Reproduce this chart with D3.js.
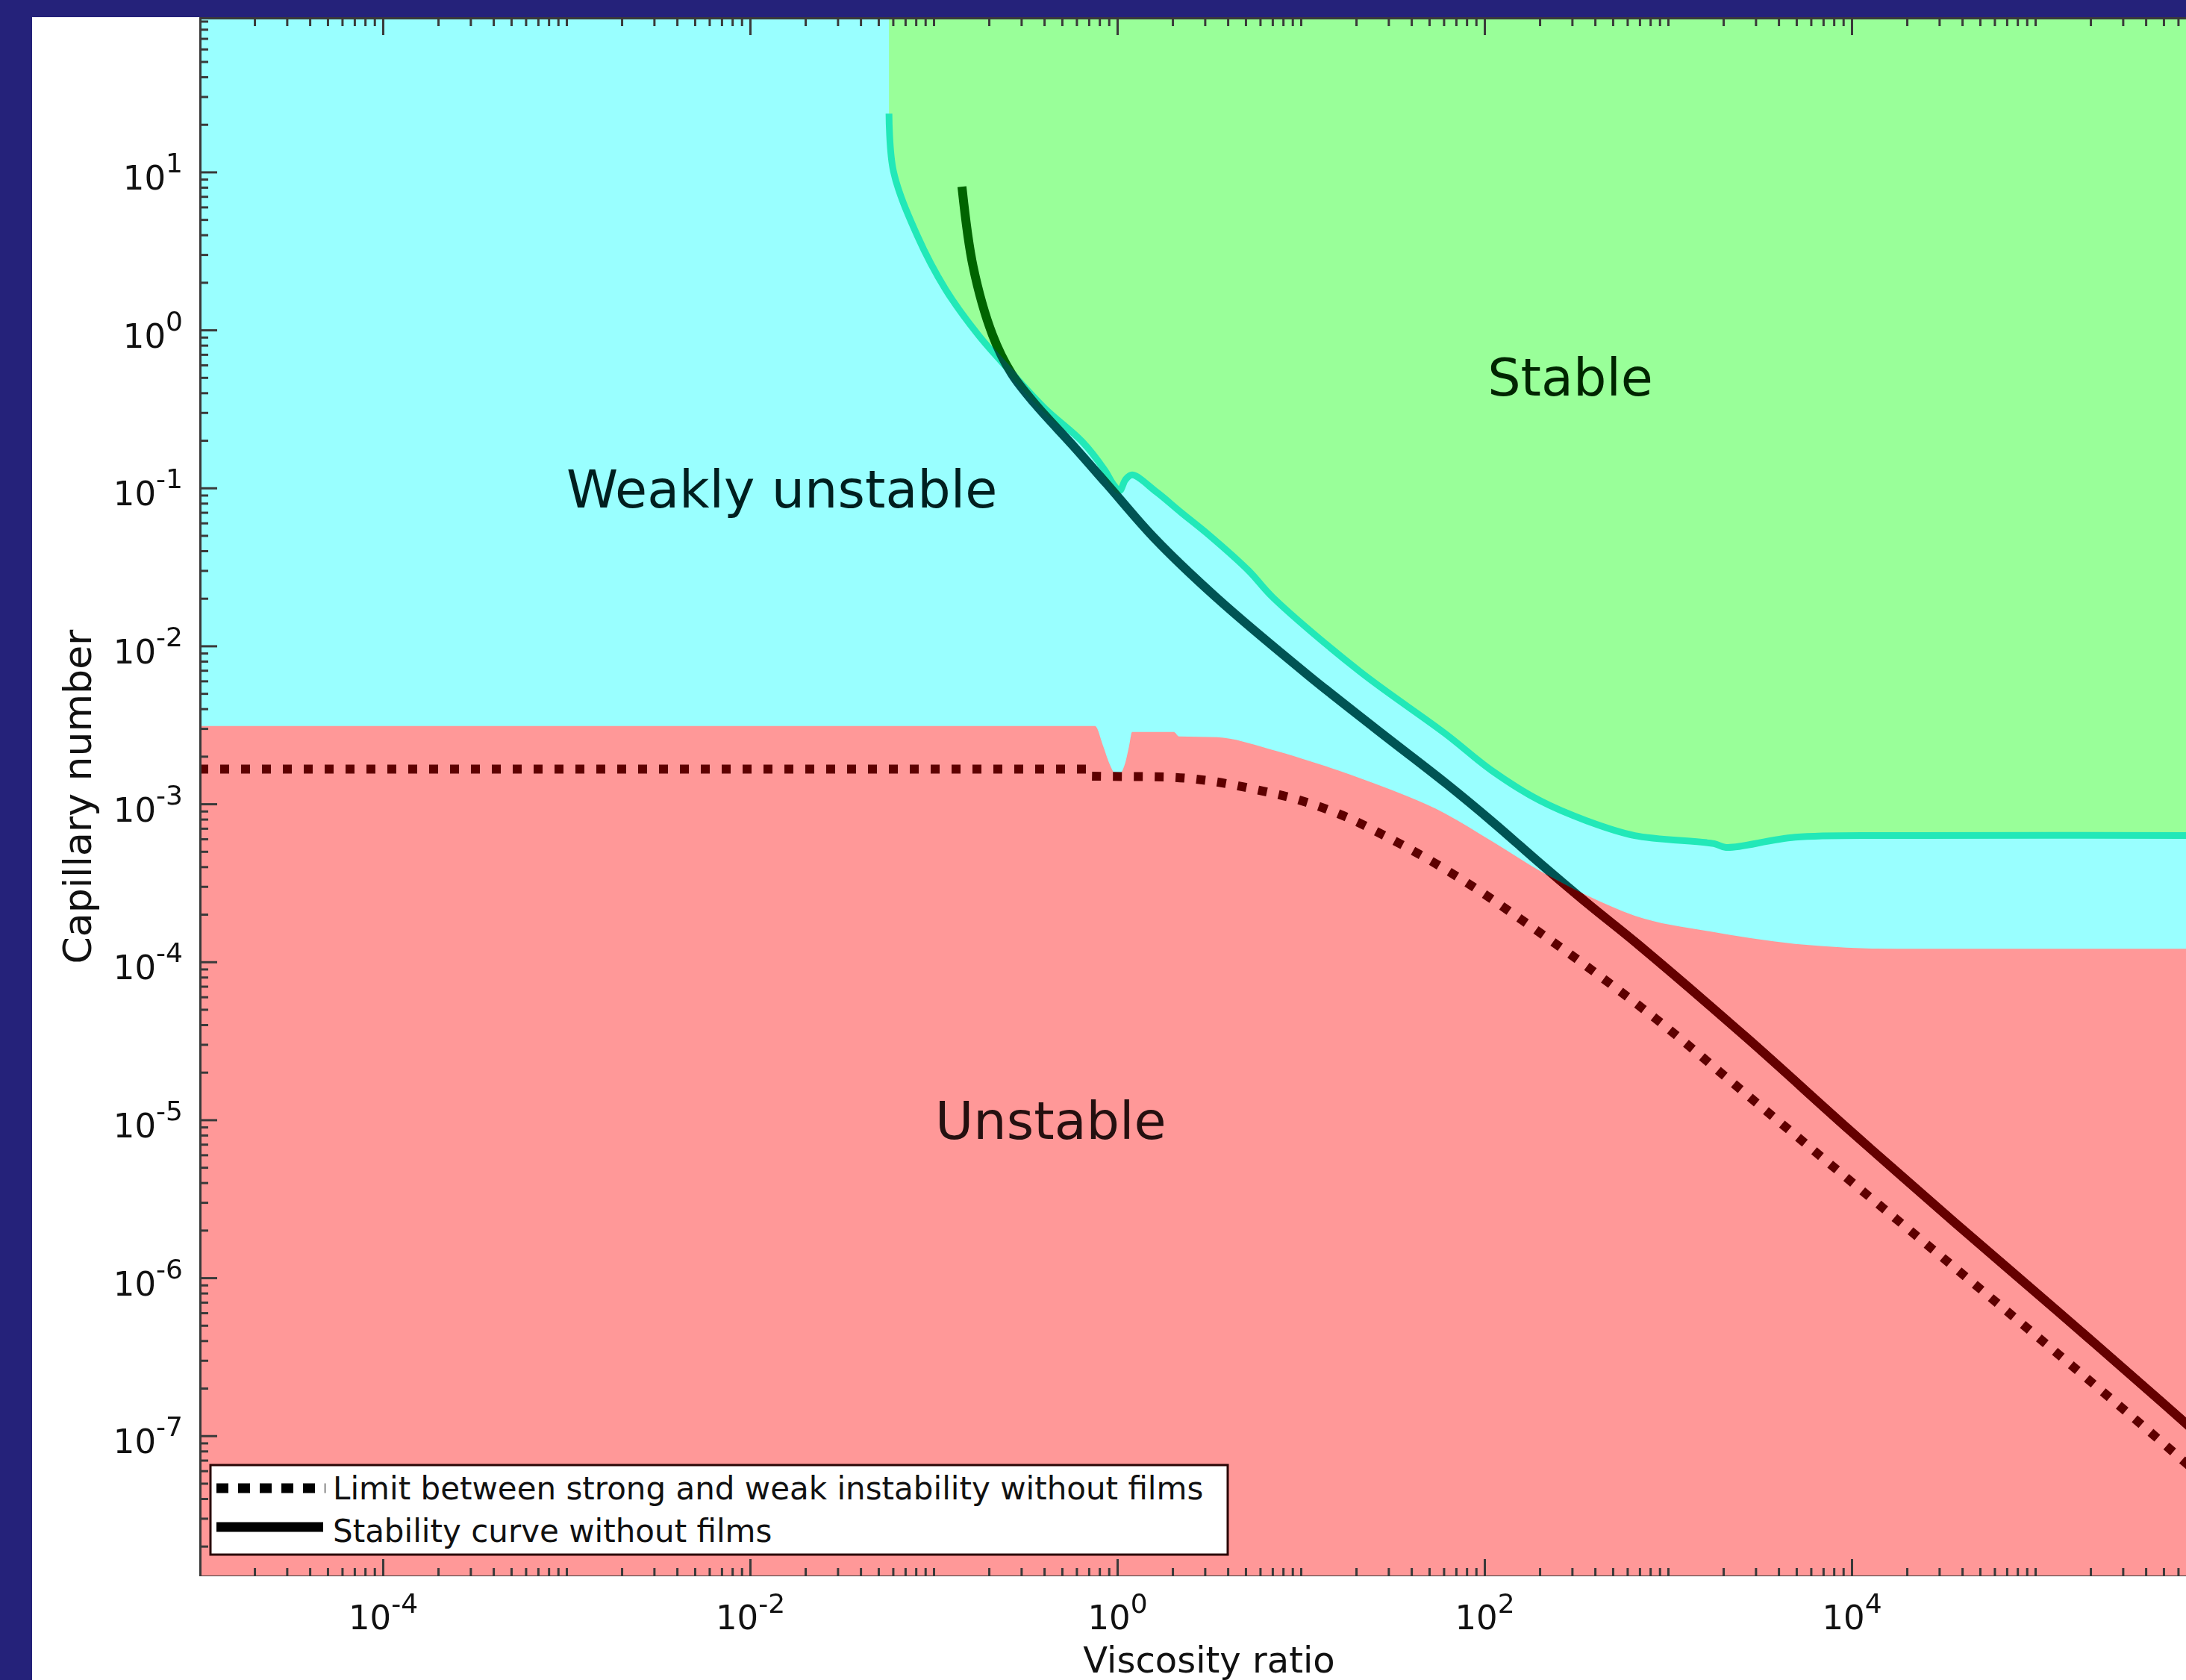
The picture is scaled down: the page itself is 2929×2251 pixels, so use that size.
<!DOCTYPE html>
<meta charset="utf-8">
<style>
	body { margin: 0; background: #25227a; }
	svg { display: block; font-family: "DejaVu Sans", sans-serif; }
	.blend { mix-blend-mode: luminosity; }
	.axis path, .axis line { stroke: #3a3a3a; stroke-width: 3; fill: none; mix-blend-mode: luminosity; }
	.ticklabel { font-size: 45px; fill: #111; }
</style>
<body>
<script src="https://d3js.org/d3.v7.min.js"></script>
<script>

	// unstable region (red): upper edge, viscosity ratio / capillary number
	var redX = [1e-5, 0.756, 0.838, 0.911, 1.0, 1.098, 1.16, 1.205, 2.03, 2.17, 3.5, 6.6, 10.2, 25, 61, 110, 200, 362, 658, 1670, 4920, 18150, 1e6];
	var redY = [3.11e-3, 3.11e-3, 2.32e-3, 1.77e-3, 1.5e-3, 1.77e-3, 2.32e-3, 2.85e-3, 2.85e-3, 2.67e-3, 2.64e-3, 2.24e-3, 1.93e-3, 1.35e-3, 8.7e-4, 5.8e-4, 3.77e-4, 2.63e-4, 1.96e-4, 1.56e-4, 1.30e-4, 1.21e-4, 1.21e-4];

	// stable region (green): lower edge
	var greenX = [0.0571, 0.0604, 0.0814, 0.116, 0.175, 0.266, 0.405, 0.645, 0.853, 0.954, 1.03, 1.11, 1.205, 1.64, 2.23, 3.15, 5.2, 7.0, 20.9, 61, 110, 200, 362, 658, 1780, 2070, 4920, 22500, 1e6];
	var greenY = [23.4, 10.1, 3.96, 1.81, 0.93, 0.535, 0.317, 0.196, 0.130, 0.105, 0.096, 0.113, 0.121, 0.094, 0.0699, 0.0505, 0.0299, 0.0204, 6.9e-3, 2.79e-3, 1.62e-3, 1.05e-3, 7.8e-4, 6.3e-4, 5.6e-4, 5.3e-4, 6.15e-4, 6.3e-4, 6.3e-4];

	// stability curve without films
	var stabX = [0.1426, 0.164, 0.2095, 0.265, 0.357, 0.575, 0.877, 1.58, 3.44, 11.0, 25.2, 62.1, 112, 204, 371, 675, 2670, 9820, 36400, 134000, 496000, 1e6];
	var stabY = [8.07, 2.52, 0.927, 0.532, 0.340, 0.185, 0.106, 0.0486, 0.0204, 6.5e-3, 3.03e-3, 1.34e-3, 7.6e-4, 4.14e-4, 2.30e-4, 1.31e-4, 3.32e-5, 8.53e-6, 2.24e-6, 6.07e-7, 1.61e-7, 7.8e-8];

	// limit between strong and weak instability without films
	var limX = [1e-5, 0.69, 0.701, 1.80, 3.16, 5.54, 9.72, 17.1, 29.9, 52.5, 91.9, 161, 283, 496, 869, 2670, 9820, 36400, 134000, 586000, 1e6];
	var limY = [1.66e-3, 1.66e-3, 1.50e-3, 1.48e-3, 1.40e-3, 1.24e-3, 1.06e-3, 8.4e-4, 6.12e-4, 4.28e-4, 2.86e-4, 1.83e-4, 1.15e-4, 7.11e-5, 4.31e-5, 1.45e-5, 4.11e-6, 1.16e-6, 3.27e-7, 7.6e-8, 4.4e-8];

	var xTicks = [1e-4, 1e-2, 1, 1e2, 1e4];
	var xTickExp = ["-4", "-2", "0", "2", "4"];
	var yTicks = [1e1, 1e0, 1e-1, 1e-2, 1e-3, 1e-4, 1e-5, 1e-6, 1e-7];
	var yTickExp = ["1", "0", "-1", "-2", "-3", "-4", "-5", "-6", "-7"];

	var regionNames = ["Weakly unstable", "Unstable", "Stable"];
	var regionX = [1.0e-3, 0.102, 104];
	var regionY = [0.0755, 7.6e-6, 0.386];
	var regionBlend = [true, false, true];

	var legendNames = ["Limit between strong and weak instability without films", "Stability curve without films"];

	var W = 2929, H = 2251;

	var x = d3.scaleLog().domain([1e-5, 1e6]).range([267, 2973]);
	var y = d3.scaleLog().domain([1.29e-8, 95.5]).range([2112, 23]);

	var svg = d3.select("body").append("svg")
		.attr("width", W)
		.attr("height", H);

	svg.append("rect").attr("width", W).attr("height", H).attr("fill", "#25227a");
	svg.append("rect").attr("x", 43).attr("y", 23).attr("width", W - 43).attr("height", H - 23).attr("fill", "#fff");

	svg.append("clipPath").attr("id", "plot")
		.append("rect")
		.attr("x", x.range()[0]).attr("y", y.range()[1])
		.attr("width", x.range()[1] - x.range()[0])
		.attr("height", y.range()[0] - y.range()[1]);

	var plot = svg.append("g").attr("clip-path", "url(#plot)");

	// weakly unstable = background
	plot.append("rect")
		.attr("x", x.range()[0]).attr("y", y.range()[1])
		.attr("width", x.range()[1] - x.range()[0])
		.attr("height", y.range()[0] - y.range()[1])
		.attr("fill", "#99ffff");

	var red = redX.map(function(v, i) { return [v, redY[i]]; });
	var redArea = d3.area()
		.x(function(d) { return x(d[0]); })
		.y0(y.range()[0])
		.y1(function(d) { return y(d[1]); })
		.curve(d3.curveMonotoneX);
	plot.append("path")
		.attr("fill", "#ff9898")
		.attr("d", redArea(red));
	svg.append("clipPath").attr("id", "redzone")
		.append("path")
		.attr("d", redArea(red));

	var green = greenX.map(function(v, i) { return [v, greenY[i]]; });
	var edge = d3.line()
		.x(function(d) { return x(d[0]); })
		.y(function(d) { return y(d[1]); })
		.curve(d3.curveCatmullRom.alpha(0.5));
	var yTopPx = y.range()[1] - 5;
	plot.append("path")
		.attr("fill", "#99ff99")
		.attr("d", edge(green) + "L" + x(greenX[greenX.length - 1]) + "," + yTopPx + "L" + x(greenX[0]) + "," + yTopPx + "Z");
	plot.append("path")
		.attr("fill", "none")
		.attr("stroke", "#22e8b8")
		.attr("stroke-width", 9)
		.attr("d", edge(green));

	var stab = stabX.map(function(v, i) { return [v, stabY[i]]; });
	plot.append("path")
		.attr("class", "blend")
		.attr("fill", "none")
		.attr("stroke", "#3b3b3b")
		.attr("stroke-width", 12)
		.attr("d", edge(stab));
	plot.append("g").attr("clip-path", "url(#redzone)")
		.append("path")
		.attr("fill", "none")
		.attr("stroke", "#650000")
		.attr("stroke-width", 12)
		.attr("d", edge(stab));

	var lim = limX.map(function(v, i) { return [v, limY[i]]; });
	plot.append("path")
		.attr("fill", "none")
		.attr("stroke", "#5e0000")
		.attr("stroke-width", 12)
		.attr("stroke-dasharray", "12,16")
		.attr("d", d3.line()
			.x(function(d) { return x(d[0]); })
			.y(function(d) { return y(d[1]); })
			.curve(d3.curveMonotoneX)(lim));

	plot.selectAll(".region")
		.data(regionNames)
		.enter().append("text")
		.attr("class", function(d, i) { return regionBlend[i] ? "region blend" : "region"; })
		.attr("x", function(d, i) { return x(regionX[i]); })
		.attr("y", function(d, i) { return y(regionY[i]); })
		.attr("font-size", 70)
		.attr("fill", function(d, i) { return regionBlend[i] ? "#161616" : "#241010"; })
		.text(function(d) { return d; });

	// minor ticks: 2..9 times each decade
	function minors(dom, majors) {
		var out = [];
		for (var e = -9; e <= 6; e++) {
			for (var k = 1; k < 10; k++) {
				var v = k * Math.pow(10, e);
				if (v < dom[0] * 0.999 || v > dom[1] * 1.001) continue;
				var isMajor = majors.some(function(m) { return Math.abs(v / m - 1) < 1e-6; });
				if (!isMajor) out.push(v);
			}
		}
		return out;
	}

	var xMinor = minors(x.domain(), xTicks);
	var yMinor = minors(y.domain(), yTicks);

	var axes = svg.append("g").attr("clip-path", "url(#plot)");

	axes.append("g").attr("class", "axis")
		.attr("transform", "translate(0," + y.range()[0] + ")")
		.call(d3.axisBottom(x).tickValues(xTicks).tickSizeInner(-23).tickSizeOuter(0).tickFormat(""));
	axes.append("g").attr("class", "axis")
		.attr("transform", "translate(0," + y.range()[0] + ")")
		.call(d3.axisBottom(x).tickValues(xMinor).tickSizeInner(-11).tickSizeOuter(0).tickFormat(""));
	axes.append("g").attr("class", "axis")
		.attr("transform", "translate(0," + (y.range()[1] + 1) + ")")
		.call(d3.axisTop(x).tickValues(xTicks).tickSizeInner(-23).tickSizeOuter(0).tickFormat(""));
	axes.append("g").attr("class", "axis")
		.attr("transform", "translate(0," + (y.range()[1] + 1) + ")")
		.call(d3.axisTop(x).tickValues(xMinor).tickSizeInner(-11).tickSizeOuter(0).tickFormat(""));
	axes.append("g").attr("class", "axis")
		.attr("transform", "translate(" + (x.range()[0] + 1) + ",0)")
		.call(d3.axisLeft(y).tickValues(yTicks).tickSizeInner(-23).tickSizeOuter(0).tickFormat(""));
	axes.append("g").attr("class", "axis")
		.attr("transform", "translate(" + (x.range()[0] + 1) + ",0)")
		.call(d3.axisLeft(y).tickValues(yMinor).tickSizeInner(-11).tickSizeOuter(0).tickFormat(""));

	// legend
	var lg = svg.append("g");
	lg.append("rect")
		.attr("x", 282).attr("y", 1963)
		.attr("width", 1363).attr("height", 120)
		.attr("fill", "#fff")
		.attr("stroke", "#2a0505")
		.attr("stroke-width", 3);
	lg.append("line")
		.attr("x1", 290).attr("x2", 436).attr("y1", 1994).attr("y2", 1994)
		.attr("stroke", "#000").attr("stroke-width", 13)
		.attr("stroke-dasharray", "16,13");
	lg.append("line")
		.attr("x1", 290).attr("x2", 433).attr("y1", 2046).attr("y2", 2046)
		.attr("stroke", "#000").attr("stroke-width", 13);
	lg.selectAll(".lgtext")
		.data(legendNames)
		.enter().append("text")
		.attr("class", "lgtext")
		.attr("x", 446)
		.attr("y", function(d, i) { return 2009 + i * 57; })
		.attr("font-size", 42)
		.attr("fill", "#111")
		.text(function(d) { return d; });

	// tick labels as 10^n
	var xl = svg.append("g")
		.attr("transform", "translate(0," + y.range()[0] + ")")
		.call(d3.axisBottom(x).tickValues(xTicks).tickSize(0));
	xl.select(".domain").remove();
	xl.attr("font-size", null).attr("font-family", null);
	xl.selectAll(".tick text")
		.attr("class", "ticklabel")
		.attr("y", 71).attr("dy", null)
		.text(null)
		.each(function(d, i) {
			var t = d3.select(this);
			t.append("tspan").text("10");
			t.append("tspan").attr("dy", -22).attr("font-size", 36).text(xTickExp[i]);
		});

	var yl = svg.append("g")
		.attr("transform", "translate(" + x.range()[0] + ",0)")
		.call(d3.axisLeft(y).tickValues(yTicks).tickSize(0));
	yl.select(".domain").remove();
	yl.attr("font-size", null).attr("font-family", null);
	yl.selectAll(".tick text")
		.attr("class", "ticklabel")
		.attr("x", -22).attr("y", 23).attr("dy", null)
		.text(null)
		.each(function(d, i) {
			var t = d3.select(this);
			t.append("tspan").text("10");
			t.append("tspan").attr("dy", -23).attr("font-size", 36).text(yTickExp[i]);
		});

	svg.append("text")
		.attr("x", (x.range()[0] + x.range()[1]) / 2)
		.attr("y", 2241)
		.attr("text-anchor", "middle")
		.attr("font-size", 48)
		.attr("fill", "#111")
		.text("Viscosity ratio");

	svg.append("text")
		.attr("transform", "translate(122," + (y.range()[0] + y.range()[1]) / 2 + ") rotate(-90)")
		.attr("text-anchor", "middle")
		.attr("font-size", 52)
		.attr("fill", "#111")
		.text("Capillary number");

</script>
</body>
